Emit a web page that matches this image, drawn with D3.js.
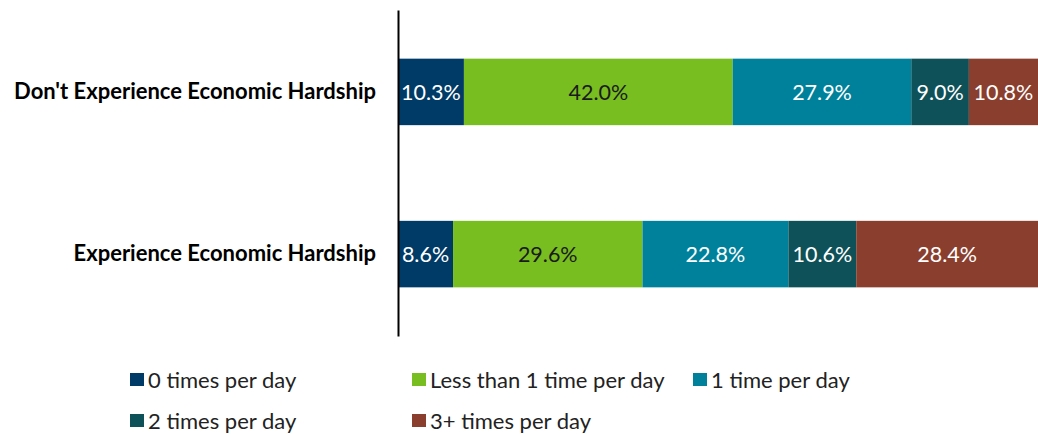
<!DOCTYPE html>
<html>
<head>
<meta charset="utf-8">
<script src="https://cdn.jsdelivr.net/npm/d3@7"></script>
<style>
  body { margin: 0; background: #fff; }
  svg { display: block; font-family: Lato, "Open Sans", sans-serif; }
</style>
</head>
<body>
<svg id="chart" width="1038" height="434"></svg>
<script>
// chart values
var categories = ["Don't Experience Economic Hardship", "Experience Economic Hardship"];
var seriesNames = ["0 times per day", "Less than 1 time per day", "1 time per day", "2 times per day", "3+ times per day"];
var noHardship = [10.3, 42.0, 27.9, 9.0, 10.8];
var hardship = [8.6, 29.6, 22.8, 10.6, 28.4];
var colors = ["#003a66", "#78be21", "#00819b", "#0e5158", "#8a3e2d"];
var labelColors = ["#ffffff", "#1a1a1a", "#ffffff", "#ffffff", "#ffffff"];

var rows = [noHardship, hardship];

var svg = d3.select("#chart");

var x = d3.scaleLinear().domain([0, 100]).range([398, 1038]);
var y = d3.scaleBand().domain(categories).range([10, 336]).paddingInner(0.59).paddingOuter(0.3);

// build stacked segments
var segs = [];
rows.forEach(function(vals, r){
    var acc = 0;
    vals.forEach(function(v, i){
        segs.push({cat: categories[r], i: i, x0: acc, x1: acc + v, v: v});
        acc += v;
    });
});

svg.selectAll("rect.seg")
    .data(segs)
    .enter().append("rect")
    .attr("class", "seg")
    .attr("x", function(d){ return x(d.x0); })
    .attr("width", function(d){ return x(d.x1) - x(d.x0); })
    .attr("y", function(d){ return y(d.cat); })
    .attr("height", y.bandwidth())
    .attr("fill", function(d){ return colors[d.i]; });

svg.selectAll("text.val")
    .data(segs)
    .enter().append("text")
    .attr("class", "val")
    .attr("x", function(d){ return (x(d.x0) + x(d.x1)) / 2; })
    .attr("y", function(d){ return y(d.cat) + y.bandwidth() / 2; })
    .attr("dy", "0.36em")
    .attr("text-anchor", "middle")
    .attr("font-size", 21.5)
    .attr("fill", function(d){ return labelColors[d.i]; })
    .text(function(d){ return d.v.toFixed(1) + "%"; });

// category axis, just the line and labels
var yAxis = d3.axisLeft(y).tickSize(0).tickPadding(22);
var gy = svg.append("g")
    .attr("transform", "translate(398,0)")
    .call(yAxis);
gy.select(".domain").attr("stroke", "#000").attr("stroke-width", 2);
gy.selectAll("text")
    .attr("font-size", 22)
    .attr("font-weight", "bold")
    .attr("fill", "#000")
    .style("font-family", "Lato, 'Open Sans', sans-serif");

// legend
var legendPos = [[130, 380], [412, 380], [693, 380], [130, 421], [412, 421]];
var legend = svg.selectAll("g.leg")
    .data(seriesNames)
    .enter().append("g")
    .attr("class", "leg")
    .attr("transform", function(d, i){ return "translate(" + legendPos[i][0] + "," + legendPos[i][1] + ")"; });

legend.append("rect")
    .attr("x", 0).attr("y", -7)
    .attr("width", 14).attr("height", 13)
    .attr("fill", function(d, i){ return colors[i]; });

legend.append("text")
    .attr("x", 18)
    .attr("dy", "0.36em")
    .attr("font-size", 22)
    .attr("fill", "#222")
    .text(function(d){ return d; });
</script>
</body>
</html>
